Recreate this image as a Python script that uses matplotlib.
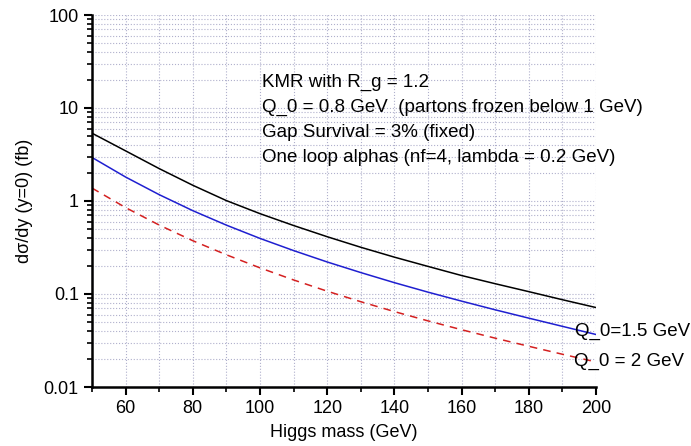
import numpy as np
import matplotlib.pyplot as plt
from matplotlib.ticker import LogLocator, FixedLocator, NullFormatter

plt.rcParams['font.family'] = ['Liberation Sans', 'DejaVu Sans']

# Higgs mass (GeV)
mass = [50, 60, 70, 80, 90, 100, 110, 120, 130, 140, 150, 160, 170, 180, 190, 200]
# d sigma / dy at y=0 (fb)
kmr_08 = [5.36, 3.46, 2.23, 1.476, 1.01, 0.731, 0.545, 0.413, 0.318, 0.249,
          0.198, 0.158, 0.129, 0.106, 0.0868, 0.0715]
q0_15 = [2.94, 1.81, 1.17, 0.787, 0.55, 0.396, 0.293, 0.221, 0.170, 0.1324,
         0.1047, 0.0838, 0.0676, 0.055, 0.0449, 0.0367]
q0_2 = [1.377, 0.849, 0.551, 0.374, 0.264, 0.191, 0.1416, 0.1072, 0.0826, 0.0647,
        0.0514, 0.0413, 0.0335, 0.0274, 0.0225, 0.0186]

notes = ["KMR with R_g = 1.2",
         "Q_0 = 0.8 GeV  (partons frozen below 1 GeV)",
         "Gap Survival = 3% (fixed)",
         "One loop alphas (nf=4, lambda = 0.2 GeV)"]

fig = plt.figure(figsize=(6.91, 4.46), dpi=100)
ax = fig.add_axes([92/691, 1-387/446, 504/691, 372/446])

ax.plot(mass, kmr_08, color='black', lw=1.1)
ax.plot(mass, q0_15, color='#1f1fd0', lw=1.1)
ax.plot(mass, q0_2, color='#d42020', lw=1.1, linestyle=(0, (5, 4)))

ax.set_yscale('log')
ax.set_xlim(50, 200)
ax.set_ylim(0.01, 100)
ax.set_xticks([60, 80, 100, 120, 140, 160, 180, 200])
ax.xaxis.set_minor_locator(FixedLocator(np.arange(50, 201, 10)))
ax.yaxis.set_minor_locator(LogLocator(base=10, subs=np.arange(2, 10)))
ax.yaxis.set_minor_formatter(NullFormatter())
ax.set_yticks([0.01, 0.1, 1, 10, 100])
ax.set_yticklabels(['0.01', '0.1', '1', '10', '100'])

ax.grid(True, which='both', color='#b0b0cc', linestyle=':', linewidth=0.8)
ax.set_axisbelow(True)

for s in ['top', 'right']:
    ax.spines[s].set_visible(False)
for s in ['left', 'bottom']:
    ax.spines[s].set_linewidth(1.8)
ax.tick_params(which='major', length=6, width=1.5, labelsize=13, direction='out')
ax.tick_params(which='minor', length=3.5, width=1.2, direction='out')

ax.set_xlabel('Higgs mass (GeV)', fontsize=13, labelpad=5)
ax.set_ylabel('d\u03c3/dy (y=0) (fb)', fontsize=13, labelpad=8)

# notes placed in figure pixel coordinates
for i, t in enumerate(notes):
    fig.text(262/691, 1-(82 + i * 25.3)/446, t, fontsize=13.5, va='center', ha='left')

fig.text(575/691, 1-331/446, 'Q_0=1.5 GeV', fontsize=13.5, va='center', ha='left')
fig.text(574/691, 1-361/446, 'Q_0 = 2 GeV', fontsize=13.5, va='center', ha='left')

fig.savefig('out.png', dpi=100)
